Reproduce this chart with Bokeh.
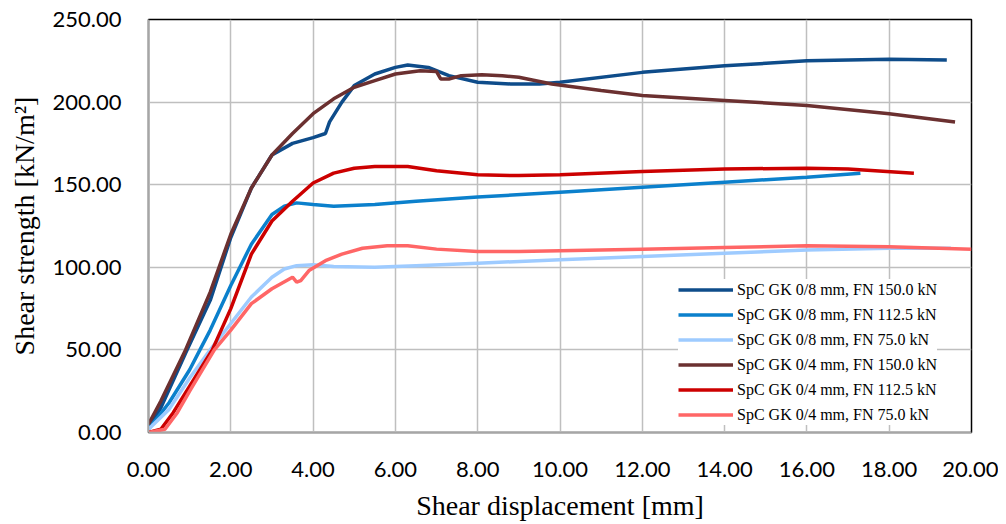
from bokeh.plotting import figure
from bokeh.models import Range1d, NumeralTickFormatter, FixedTicker, Legend, LegendItem
from bokeh.embed import file_html
from bokeh.resources import INLINE

# ---- data ----
labels = [
    "SpC GK 0/8 mm, FN 150.0 kN",
    "SpC GK 0/8 mm, FN 112.5 kN",
    "SpC GK 0/8 mm, FN 75.0 kN",
    "SpC GK 0/4 mm, FN 150.0 kN",
    "SpC GK 0/4 mm, FN 112.5 kN",
    "SpC GK 0/4 mm, FN 75.0 kN",
]

x_gk8_150 = [0.0, 0.3, 0.9, 1.5, 2.0, 2.5, 3.0, 3.5, 4.0, 4.3, 4.4, 4.7, 5.0, 5.5, 6.0, 6.3, 6.8, 7.3, 8.0, 8.8, 9.5, 10.0, 12.0, 14.0, 16.0, 18.0, 19.4]
y_gk8_150 = [3, 15, 48, 80, 118, 148, 168, 175, 178.5, 181, 188, 200, 210, 217, 221, 222.5, 221, 216, 212, 211, 211, 212, 218, 222, 225, 226, 225.5]

x_gk8_112 = [0.0, 0.5, 1.0, 1.25, 1.5, 2.0, 2.5, 3.0, 3.3, 3.6, 4.0, 4.5, 5.5, 6.5, 8.0, 10.0, 12.0, 14.0, 16.0, 17.3]
y_gk8_112 = [2, 18, 38, 50, 62, 89, 114, 132, 137, 139, 138, 137, 138, 140, 142.5, 145.5, 148.5, 151.5, 154.5, 157]

x_gk8_75 = [0.0, 0.5, 1.0, 1.5, 2.0, 2.5, 3.0, 3.3, 3.6, 4.0, 4.5, 5.5, 6.5, 8.0, 10.0, 12.0, 14.0, 16.0, 18.0, 19.5]
y_gk8_75 = [2, 14, 33, 50, 66, 82, 94, 99, 101, 101.5, 100.5, 100, 101, 102.5, 104.5, 106.5, 108.5, 110.5, 111.5, 111.5]

x_gk4_150 = [0.0, 0.3, 0.9, 1.5, 2.0, 2.5, 3.0, 3.5, 4.0, 4.5, 5.0, 5.5, 6.0, 6.6, 7.0, 7.1, 7.3, 7.6, 8.1, 8.6, 9.0, 9.8, 11.0, 12.0, 14.0, 16.0, 18.0, 19.6]
y_gk4_150 = [5, 19, 50, 85, 120, 148, 168, 181, 193, 202, 209, 213, 217, 219, 218.5, 214, 214, 216, 216.5, 216, 215, 211, 207, 204, 201, 198, 193, 188]

x_gk4_112 = [0.0, 0.3, 0.6, 1.0, 1.55, 2.0, 2.5, 3.0, 3.5, 4.0, 4.5, 5.0, 5.5, 6.3, 7.0, 8.0, 9.0, 10.0, 12.0, 14.0, 16.0, 17.0, 18.6]
y_gk4_112 = [0, 2, 12, 28, 50, 75, 108, 128, 140, 151, 157, 160, 161, 161, 158.5, 156, 155.5, 156, 158, 159.5, 160, 159.5, 157]

x_gk4_75 = [0.0, 0.4, 0.7, 1.0, 1.6, 2.0, 2.5, 3.0, 3.5, 3.6, 3.7, 3.9, 4.3, 4.7, 5.2, 5.8, 6.3, 7.0, 8.0, 9.0, 10.0, 12.0, 14.0, 16.0, 18.0, 20.0]
y_gk4_75 = [0, 2, 12, 25, 50, 62, 78, 87, 94, 91, 92, 98, 104, 108, 111.5, 113, 113, 111, 109.5, 109.5, 110, 111, 112, 113, 112.5, 111]

x_ticks = [0, 2, 4, 6, 8, 10, 12, 14, 16, 18, 20]
y_ticks = [0, 50, 100, 150, 200, 250]

series = [
    (x_gk8_150, y_gk8_150, "#0E4C8A"),
    (x_gk8_112, y_gk8_112, "#0B80CC"),
    (x_gk8_75, y_gk8_75, "#9ECBFF"),
    (x_gk4_150, y_gk4_150, "#6B3030"),
    (x_gk4_112, y_gk4_112, "#CC0000"),
    (x_gk4_75, y_gk4_75, "#FF6666"),
]

p = figure(width=998, height=524, output_backend="svg", toolbar_location=None,
           x_range=Range1d(0, 20), y_range=Range1d(0, 250),
           min_border_left=148, min_border_right=27, min_border_top=19, min_border_bottom=92)
p.background_fill_color = "white"
p.border_fill_color = "white"
p.outline_line_color = "black"
p.outline_line_width = 1.5

items = []
for (xs, ys, c), lab in zip(series, labels):
    r = p.line(xs, ys, line_color=c, line_width=3.5)
    items.append(LegendItem(label=lab, renderers=[r]))

for ax in (p.xaxis[0], p.yaxis[0]):
    ax.formatter = NumeralTickFormatter(format="0.00")
    ax.major_tick_line_color = None
    ax.minor_tick_line_color = None
    ax.axis_line_color = "#A6A6A6"
    ax.axis_line_width = 1.5
    ax.major_label_text_font = "Lato"
    ax.major_label_text_font_size = "22px"
    ax.major_label_text_color = "black"
    ax.axis_label_text_font = "Liberation Serif"
    ax.axis_label_text_font_size = "28px"
    ax.axis_label_text_font_style = "normal"
    ax.axis_label_text_color = "black"

p.xaxis.ticker = FixedTicker(ticks=x_ticks)
p.yaxis.ticker = FixedTicker(ticks=y_ticks)
p.xaxis.major_label_standoff = 23
p.yaxis.major_label_standoff = 21
p.xaxis.axis_label = "Shear displacement [mm]"
p.yaxis.axis_label = "Shear strength [kN/m²]"
p.xaxis.axis_label_standoff = 10
p.yaxis.axis_label_standoff = 10

p.grid.grid_line_color = "#BFBFBF"
p.grid.grid_line_width = 1.5
p.xgrid.ticker = FixedTicker(ticks=x_ticks)
p.ygrid.ticker = FixedTicker(ticks=y_ticks)

legend = Legend(items=items, location=(530, 7))
legend.label_text_font = "Liberation Serif"
legend.label_text_font_size = "16px"
legend.label_text_color = "black"
legend.glyph_width = 55
legend.glyph_height = 21
legend.label_height = 21
legend.spacing = 4
legend.padding = 10
legend.margin = 0
legend.label_standoff = 4
legend.border_line_color = None
legend.background_fill_color = "white"
legend.background_fill_alpha = 1.0
p.add_layout(legend, "center")

open("out.html", "w").write(file_html(p, INLINE))
